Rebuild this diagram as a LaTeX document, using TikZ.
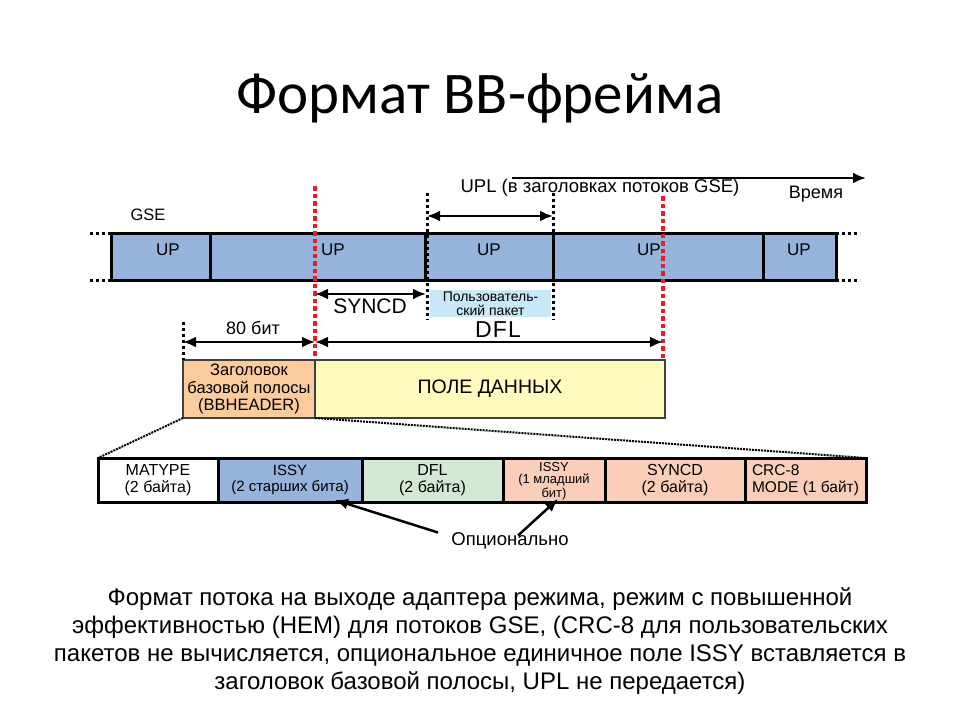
\documentclass[tikz,border=0pt]{standalone}
\usepackage{fontspec}
\setmainfont{Liberation Sans}
\newfontfamily\titlefont{Carlito}
\newfontfamily\widefont[LetterSpace=5]{Liberation Sans}
\usetikzlibrary{positioning,arrows.meta}
\definecolor{upblue}{RGB}{149,179,219}
\definecolor{pktblue}{RGB}{200,232,247}
\definecolor{hdrorange}{RGB}{251,203,156}
\definecolor{datayellow}{RGB}{255,251,188}
\definecolor{dflgreen}{RGB}{211,233,212}
\definecolor{fldsalmon}{RGB}{251,206,186}
\definecolor{cutred}{RGB}{228,30,38}

\begin{document}
\begin{tikzpicture}[x=1pt, y=-1pt,
  cell/.style = {draw, line width=3pt, fill=upblue, minimum height=47pt, inner sep=0pt, outer sep=0pt, anchor=west},
  field/.style = {draw, line width=3pt, minimum height=44pt, inner sep=0pt, outer sep=0pt, anchor=west, align=center, font=\fontsize{16}{17}\selectfont},
  box/.style = {draw=black!75, line width=2pt, minimum height=58pt, inner sep=0pt, outer sep=0pt, anchor=west, align=center},
  lbl/.style = {inner sep=0pt, font=\fontsize{17}{18}\selectfont},
  dim/.style = {{Latex[length=13pt,width=11pt]}-{Latex[length=13pt,width=11pt]}, line width=2.5pt},
  arr/.style = {-{Latex[length=13pt,width=11pt]}, line width=2.5pt},
  blackdot/.style = {line width=3pt, dash pattern=on 3pt off 3pt},
  reddash/.style = {cutred, line width=4.5pt, dash pattern=on 4.5pt off 3pt}]
\useasboundingbox (0,0) rectangle (960,720);

% title
\node (title) at (480,98) {\titlefont\fontsize{59}{66}\selectfont Формат BB-фрейма};

% GSE stream
\node[lbl, font=\fontsize{16.5}{18}\selectfont] (gse) at (148,215) {GSE};
\node[cell, minimum width=99pt] (up1) at (111,256.5) {};
\node[cell, minimum width=215pt, right=0pt of up1] (up2) {};
\node[cell, minimum width=128pt, right=0pt of up2] (up3) {};
\node[cell, minimum width=210pt, right=0pt of up3] (up4) {};
\node[cell, minimum width=73pt, right=0pt of up4] (up5) {};
\node[lbl] (lup1) at (168,250) {UP};
\node[lbl] (lup2) at (333,250) {UP};
\node[lbl] (lup3) at (489,250) {UP};
\node[lbl] (lup4) at (649,250) {UP};
\node[lbl] (lup5) at (799,250) {UP};
\draw[blackdot] (up1.north west) -- ++(-24,0);
\draw[blackdot] (up1.south west) -- ++(-24,0);
\draw[blackdot] (up5.north east) -- ++(24,0);
\draw[blackdot] (up5.south east) -- ++(24,0);

% time axis
\coordinate (t0) at (512,178);
\coordinate (t1) at (866,178);
\draw[arr] (t0) -- (t1);
\node[lbl, font=\fontsize{18}{20}\selectfont] (time) at (816,194) {Время};
\node[lbl, font=\fontsize{18.5}{20}\selectfont] (upl) at (600,188) {UPL (в заголовках потоков GSE)};

% packet boundaries
\coordinate (pa) at (427,193);
\coordinate (pb) at (427,320);
\coordinate (pc) at (553,193);
\coordinate (pd) at (553,320);
\draw[blackdot] (pa) -- (pb);
\draw[blackdot] (pc) -- (pd);
\coordinate (ua) at (427,216);
\coordinate (ub) at (553,216);
\draw[dim] (ua) -- (ub);
\node[fill=pktblue, minimum width=121pt, minimum height=27pt, inner sep=0pt, align=center,
      font=\fontsize{14}{13.5}\selectfont] (pkt) at (490.5,303.5) {Пользователь-\\ский пакет};

% BB frame boundaries
\coordinate (ra) at (315,186);
\coordinate (rb) at (315,361);
\coordinate (rc) at (663,196);
\coordinate (rd) at (663,361);
\draw[reddash] (ra) -- (rb);
\draw[reddash] (rc) -- (rd);
\coordinate (sa) at (315,294);
\coordinate (sb) at (426,294);
\draw[dim] (sa) -- (sb);
\node[lbl, font=\fontsize{21}{24}\selectfont] (syncd) at (370,306) {SYNCD};

% BB frame
\node[box, fill=hdrorange, minimum width=132pt, font=\fontsize{16.5}{17.5}\selectfont] (hdr) at (183,389)
  {Заголовок\\базовой полосы\\(BBHEADER)};
\node[box, fill=datayellow, minimum width=350pt, right=0pt of hdr, font=\fontsize{19.5}{20}\selectfont] (data)
  {ПОЛЕ ДАННЫХ};
\coordinate (ba) at (183,322);
\draw[blackdot] (ba) -- (hdr.north west);
\coordinate (da) at (183,342);
\coordinate (db) at (315,342);
\coordinate (dc) at (663,342);
\draw[dim] (da) -- (db);
\draw[dim] (db) -- (dc);
\node[lbl, font=\fontsize{18}{20}\selectfont] (bits) at (253,328) {80 бит};
\node[lbl, font=\widefont\fontsize{23}{24}\selectfont] (dfl) at (498,330) {DFL};

% BBHEADER fields
\node[field, fill=white, minimum width=120pt] (f1) at (98,480) {MATYPE\\(2 байта)};
\node[field, fill=upblue, minimum width=144pt, right=0pt of f1, font=\fontsize{15}{16}\selectfont] (f2) {ISSY\\(2 старших бита)};
\node[field, fill=dflgreen, minimum width=141pt, right=0pt of f2] (f3) {DFL\\(2 байта)};
\node[field, fill=fldsalmon, minimum width=102pt, right=0pt of f3, text depth=0pt, font=\fontsize{13}{12}\selectfont] (f4) {ISSY\\(1 младший\\бит)};
\node[field, fill=fldsalmon, minimum width=140pt, right=0pt of f4] (f5) {SYNCD\\(2 байта)};
\node[field, fill=fldsalmon, minimum width=121pt, right=0pt of f5, align=left, font=\fontsize{15.5}{17}\selectfont] (f6) {CRC-8\\MODE (1 байт)};
\draw[blackdot, line width=2pt, dash pattern=on 2pt off 1pt] (hdr.south west) -- (f1.north west);
\draw[blackdot, line width=2pt, dash pattern=on 2pt off 1pt] (hdr.south east) -- (f6.north east);

% optional fields
\node[lbl, font=\fontsize{18.5}{20}\selectfont] (opt) at (510,541) {Опционально};
\draw[arr] ([xshift=-72]opt.north) -- ([xshift=45,yshift=2]f2.south);
\draw[arr] ([xshift=8,yshift=-3]opt.north) -- ([xshift=4,yshift=3]f4.south);

% caption
\node[align=center, font=\fontsize{24}{28}\selectfont] (caption) at (480,641)
  {Формат потока на выходе адаптера режима, режим с повышенной\\
   эффективностью (HEM) для потоков GSE, (CRC-8 для пользовательских\\
   пакетов не вычисляется, опциональное единичное поле ISSY вставляется в\\
   заголовок базовой полосы, UPL не передается)};
\end{tikzpicture}
\end{document}
